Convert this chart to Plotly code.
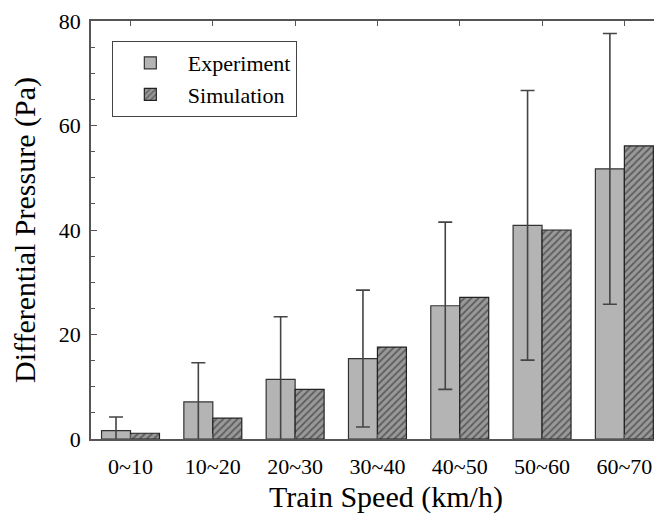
import plotly.graph_objects as go

categories = ["0~10", "10~20", "20~30", "30~40", "40~50", "50~60", "60~70"]
experiment = [1.6, 7.1, 11.4, 15.4, 25.5, 40.9, 51.7]
experiment_err = [2.6, 7.5, 12.0, 13.1, 16.0, 25.8, 25.9]
simulation = [1.1, 4.0, 9.5, 17.6, 27.1, 40.0, 56.1]

font_family = "Liberation Serif, Times New Roman, serif"
axis_color = "#555555"

fig = go.Figure()
fig.add_trace(go.Bar(
    x=categories, y=experiment, name="Experiment",
    marker=dict(color="#b4b4b4", line=dict(color="#333333", width=1.2)),
    error_y=dict(type="data", array=experiment_err, symmetric=True,
                 color="#444444", thickness=1.6, width=7),
))
fig.add_trace(go.Bar(
    x=categories, y=simulation, name="Simulation",
    marker=dict(color="#8c8c8c", line=dict(color="#222222", width=1.2),
                pattern=dict(shape="/", bgcolor="#999999", fgcolor="#222222",
                             size=5, solidity=0.35)),
))

# the page body adds an 8px offset, so the figure is smaller and margins shifted
fig.update_layout(
    width=646, height=508,
    margin=dict(l=83, r=0, t=13, b=77),
    paper_bgcolor="white", plot_bgcolor="white",
    barmode="group", bargap=0.296, bargroupgap=0.0,
    font=dict(family=font_family, color="black", size=22),
    showlegend=True,
    legend=dict(x=0.037, y=0.952, xanchor="left", yanchor="top",
                bordercolor="#444444", borderwidth=1, bgcolor="white",
                font=dict(size=22, family=font_family), itemwidth=65,
                tracegroupgap=0),
    xaxis=dict(
        range=[-0.48, 6.36], automargin=False,
        showline=True, linecolor=axis_color, linewidth=1.5, mirror="ticks",
        ticks="inside", ticklen=5, tickcolor=axis_color, tickwidth=1.2,
        tickfont=dict(size=22), ticklabelstandoff=7,
        showgrid=False, zeroline=False,
    ),
    yaxis=dict(
        range=[0, 80], tickvals=[0, 20, 40, 60, 80], automargin=False,
        showline=True, linecolor=axis_color, linewidth=1.5, mirror=False,
        ticks="inside", ticklen=6, tickcolor=axis_color, tickwidth=1.2,
        minor=dict(dtick=5, ticks="inside", ticklen=4, tickcolor=axis_color, tickwidth=1),
        tickfont=dict(size=22), ticklabelstandoff=4,
        showgrid=False, zeroline=False,
        title=dict(text="Differential Pressure (Pa)", font=dict(size=30), standoff=14),
    ),
    annotations=[dict(
        text="Train Speed (km/h)", xref="paper", yref="paper",
        x=0.524, y=-0.139, xanchor="center", yanchor="middle",
        showarrow=False, font=dict(size=30, family=font_family, color="black"),
    )],
)

fig.write_html("out.html")
